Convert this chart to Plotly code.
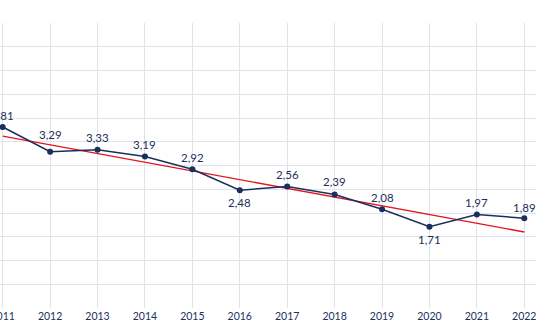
import plotly.graph_objects as go

years = [2011, 2012, 2013, 2014, 2015, 2016, 2017, 2018, 2019, 2020, 2021, 2022]
values = [3.81, 3.29, 3.33, 3.19, 2.92, 2.48, 2.56, 2.39, 2.08, 1.71, 1.97, 1.89]
trend_years = [2011, 2022]
trend_values = [3.62, 1.60]
tick_labels = [str(y) for y in years]

navy = "#1b2f5c"
red = "#e3141c"
grid = "#dfe4ec"

# label offsets (pixels) relative to each point: positive = above
label_shift = [12, 17, 12, 12, 12, -12, 12, 13, 12, -13, 12, 11]

fig = go.Figure()
fig.add_trace(go.Scatter(
    x=trend_years, y=trend_values, mode="lines",
    line=dict(color=red, width=1.3), hoverinfo="skip", showlegend=False,
))
fig.add_trace(go.Scatter(
    x=years, y=values, mode="lines+markers",
    line=dict(color=navy, width=1.5),
    marker=dict(color=navy, size=6),
    showlegend=False,
))

for yr, v, s in zip(years, values, label_shift):
    fig.add_annotation(
        x=yr, y=v, text=f"{v:.2f}".replace(".", ","),
        showarrow=False, yshift=s, xanchor="center", yanchor="middle",
        font=dict(family="Lato", size=11.5, color=navy),
    )

fig.update_layout(
    width=536, height=331,
    margin=dict(l=0, r=0, t=23, b=23, pad=0, autoexpand=False),
    paper_bgcolor="white", plot_bgcolor="white",
    font=dict(family="Lato", color=navy),
    xaxis=dict(
        range=[2010.943, 2022.247], tickvals=years, ticktext=tick_labels,
        showgrid=True, gridcolor=grid, gridwidth=1, zeroline=False,
        showline=False, ticks="", ticklabeloverflow="allow", automargin=False,
        tickfont=dict(family="Lato", size=10.5, color=navy),
    ),
    yaxis=dict(
        range=[0, 6], dtick=0.5, showticklabels=False, automargin=False,
        showgrid=True, gridcolor=grid, gridwidth=1, zeroline=False, showline=False,
    ),
)

fig.write_html("out.html")
